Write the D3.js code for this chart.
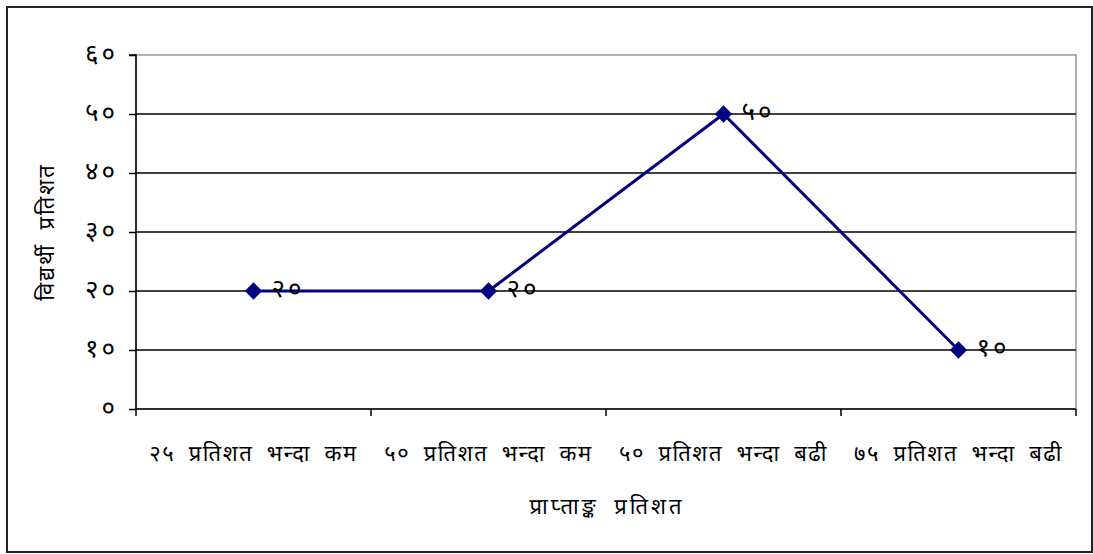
<!DOCTYPE html>
<html><head><meta charset="utf-8">
<script src="https://cdn.jsdelivr.net/npm/d3@7"></script>
<style>body{margin:0;background:#fff}svg{display:block}</style>
</head><body>
<svg id="c" width="1093" height="554"></svg>
<script>
const categories = ["२५ प्रतिशत भन्दा कम", "५० प्रतिशत भन्दा कम", "५० प्रतिशत भन्दा बढी", "७५ प्रतिशत भन्दा बढी"];
const values = [20, 20, 50, 10];
const valueLabels = ["२०", "२०", "५०", "१०"];
const yTicks = [0, 10, 20, 30, 40, 50, 60];
const yTickLabels = ["०", "१०", "२०", "३०", "४०", "५०", "६०"];
const xTitle = "प्राप्ताङ्क प्रतिशत";
const yTitle = "विद्यर्थी प्रतिशत";

const font = "'Noto Sans Devanagari','Noto Sans','Lohit Devanagari',sans-serif";
const svg = d3.select("#c");
const L = 136, R = 1076, T = 55, B = 409;

function style(sel, size, ls, ws) {
  sel.attr("font-family", font).attr("font-size", size).attr("fill", "#000")
    .attr("letter-spacing", ls).attr("word-spacing", ws);
}

svg.append("rect").attr("x", 7).attr("y", 7).attr("width", 1085).attr("height", 545)
  .attr("fill", "#fff").attr("stroke", "#222").attr("stroke-width", 2);

const x = d3.scaleBand().domain(categories).range([L, R]).padding(0);
const y = d3.scaleLinear().domain([0, 60]).range([B, T]);

svg.append("rect").attr("x", L).attr("y", T).attr("width", R - L).attr("height", B - T)
  .attr("fill", "none").attr("stroke", "#999").attr("stroke-width", 1.5);

svg.append("g").selectAll("line").data(yTicks.filter(d => d > 0 && d < 60)).join("line")
  .attr("x1", L).attr("x2", R).attr("y1", d => y(d)).attr("y2", d => y(d))
  .attr("stroke", "#000").attr("stroke-width", 1.5);

const yAxis = d3.axisLeft(y).tickValues(yTicks).tickSize(7).tickPadding(11)
  .tickFormat((d, i) => yTickLabels[i]);
const gy = svg.append("g").attr("transform", `translate(${L},0)`).call(yAxis);
gy.select(".domain").attr("stroke", "#000").attr("stroke-width", 1.5).attr("d", `M-7,${T}H0V${B}`);
gy.selectAll(".tick line").attr("stroke", "#000").attr("stroke-width", 1.5);
style(gy.selectAll(".tick text"), 26, 3, 0);
gy.selectAll(".tick text").attr("dy", "0.25em");

const xAxis = d3.axisBottom(x).tickSize(0).tickPadding(0);
const gx = svg.append("g").attr("transform", `translate(0,${B})`).call(xAxis);
gx.select(".domain").attr("stroke", "#000").attr("stroke-width", 1.5).attr("d", `M${L},0H${R}`);
style(gx.selectAll(".tick text"), 22, 1.6, 6);
gx.selectAll(".tick text").attr("dy", "2.35em");
const edges = categories.map(c => x(c)).concat([x(categories[categories.length - 1]) + x.bandwidth()]);
gx.append("g").selectAll("line").data(edges).join("line")
  .attr("x1", d => d).attr("x2", d => d).attr("y1", 0).attr("y2", 7)
  .attr("stroke", "#000").attr("stroke-width", 1.5);

const cx = c => x(c) + x.bandwidth() / 2;
const line = d3.line().x((d, i) => cx(categories[i])).y(d => y(d));
svg.append("path").datum(values).attr("d", line).attr("fill", "none")
  .attr("stroke", "#000080").attr("stroke-width", 3);

svg.append("g").selectAll("path").data(values).join("path")
  .attr("d", d3.symbol().type(d3.symbolDiamond2).size(190))
  .attr("transform", (d, i) => `translate(${cx(categories[i])},${y(d)})`)
  .attr("fill", "#000080");

const vl = svg.append("g").selectAll("text").data(values).join("text")
  .attr("x", (d, i) => cx(categories[i]) + 18).attr("y", d => y(d) + 6)
  .text((d, i) => valueLabels[i]);
style(vl, 26, 3, 0);

const xt = svg.append("text").attr("x", (L + R) / 2 + 1).attr("y", 514).attr("text-anchor", "middle").text(xTitle);
style(xt, 22, 3, 7);
const yt = svg.append("text").attr("transform", `translate(54,232) rotate(-90)`).attr("text-anchor", "middle").text(yTitle);
style(yt, 22, 2, 6);
</script>
</body></html>
